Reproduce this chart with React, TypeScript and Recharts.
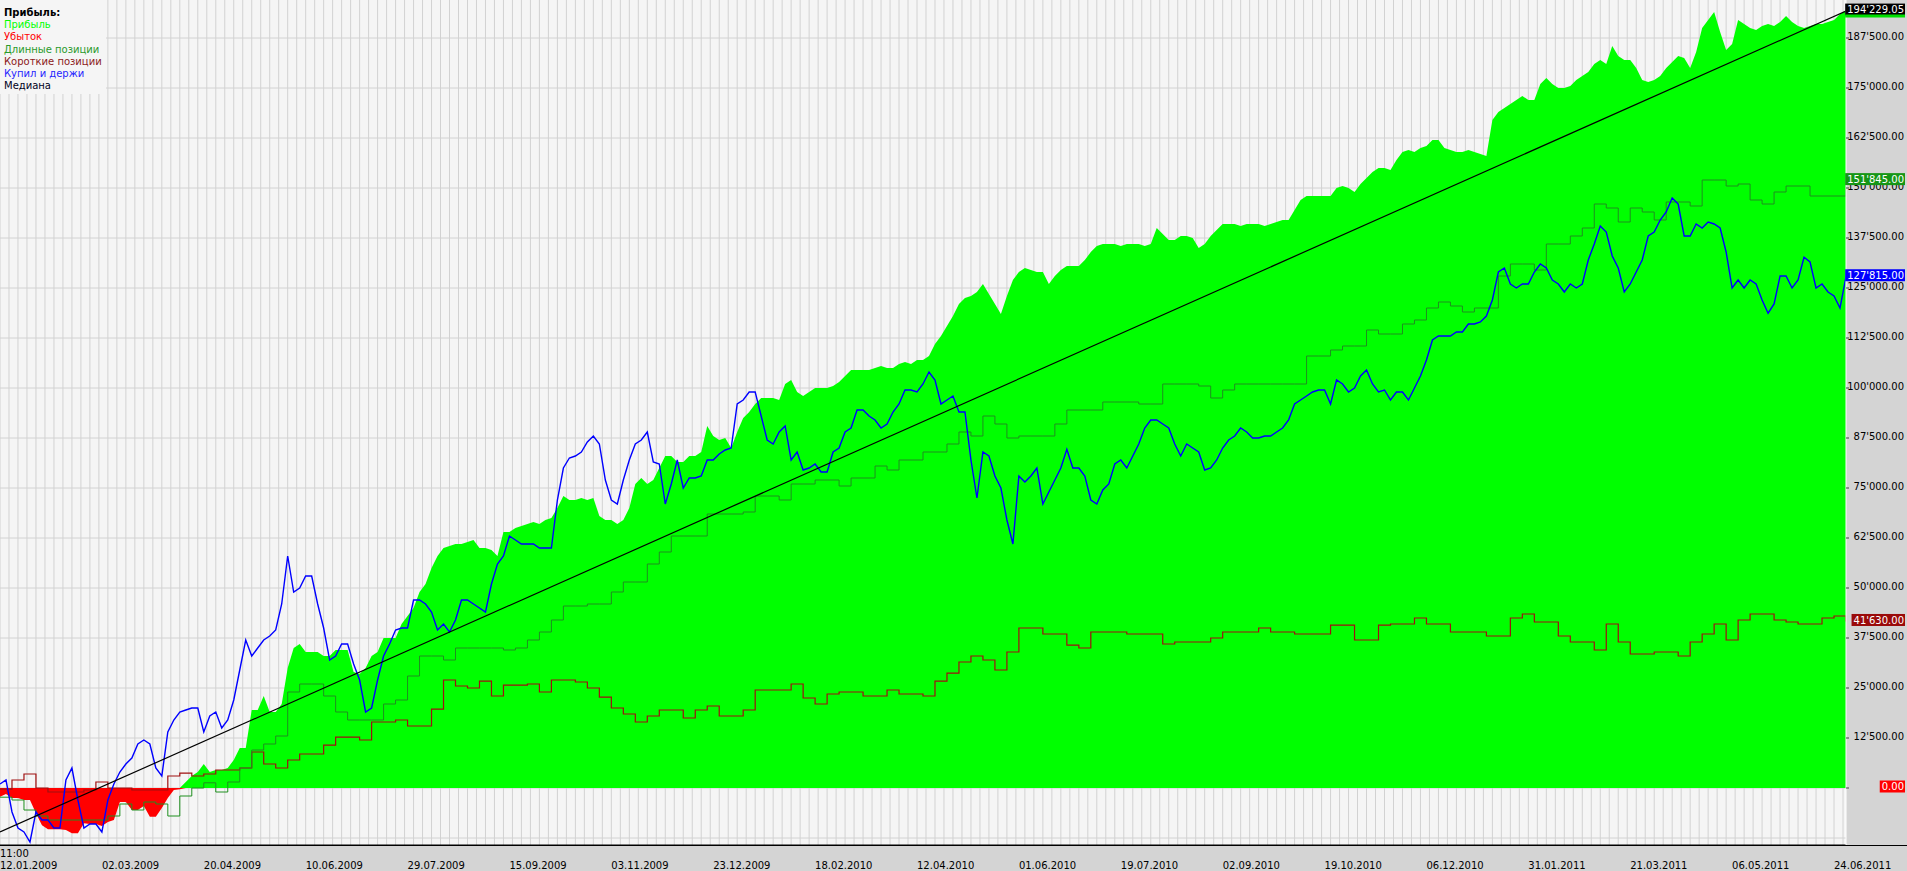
import React from 'react';
import { ComposedChart, Area, Line, XAxis, YAxis, CartesianGrid, Legend, LabelList } from 'recharts';

const W = 1907;
const H = 871;
const FONT = '"DejaVu Sans", Verdana, sans-serif';

// x axis: trading bars, one label every 34 bars
const dateLabels = [
  '12.01.2009', '02.03.2009', '20.04.2009', '10.06.2009', '29.07.2009', '15.09.2009',
  '03.11.2009', '23.12.2009', '18.02.2010', '12.04.2010', '01.06.2010', '19.07.2010',
  '02.09.2010', '19.10.2010', '06.12.2010', '31.01.2011', '21.03.2011', '06.05.2011', '24.06.2011',
];
const firstTime = '11:00';
const BARS_PER_LABEL = 34;
const SAMPLE_STEP = 2; // profit & buy-and-hold read every 2 bars
const LAST_BAR = 616;
const GRID_STEP = 3;

const yTickValues = [0, 12500, 25000, 37500, 50000, 62500, 75000, 87500, 100000, 112500, 125000, 137500, 150000, 162500, 175000, 187500];
const Y_MIN = -14250;
const Y_MAX = 197000;

// total result (profit > 0 green, loss < 0 red), every 2 bars
const profitValues = [
  -2200, -1500, -2500, -2500, -3000, -3000, -6300, -9300, -10300, -10300,
  -10300, -10500, -11300, -11300, -8800, -9000, -9000, -9500, -8500, -8000,
  -3500, -3500, -5500, -5500, -4500, -7200, -7200, -5000, -2500, -500,
  -300, 1500, 3000, 4000, 6000, 4000, 4500, 4500, 5000, 7000,
  10000, 10000, 19500, 19500, 23000, 19000, 19000, 21000, 30000, 35000,
  36000, 34000, 34000, 34000, 33000, 33000, 34500, 34500, 34500, 29000,
  28500, 30000, 33000, 34000, 37500, 37500, 37500, 41000, 43000, 45000,
  49000, 51000, 55000, 58000, 60000, 60500, 61000, 61000, 61500, 62000,
  60000, 60000, 59500, 58000, 64000, 64000, 65000, 65500, 66000, 66500,
  66000, 67000, 67500, 70000, 73000, 72000, 72000, 72500, 72000, 72500,
  68000, 67000, 67000, 66000, 67000, 70000, 76000, 77500, 76000, 77000,
  80000, 83000, 83000, 81500, 81500, 83000, 83000, 84000, 90500, 88000,
  87000, 87500, 85000, 89000, 92500, 94000, 96000, 97500, 97500, 97500,
  97000, 101000, 102000, 99000, 98000, 99000, 100000, 100000, 100000, 100500,
  101500, 103000, 104500, 104500, 104500, 104500, 105000, 105500, 105000, 105000,
  106000, 106500, 106000, 107000, 107000, 108000, 111000, 113000, 115500, 118000,
  121000, 122500, 123000, 124000, 126000, 123500, 121000, 118500, 123000, 127000,
  129000, 130000, 129500, 129000, 129000, 126000, 128000, 129500, 130500, 130500,
  130500, 132000, 134000, 135500, 136000, 136000, 136000, 135500, 136000, 136000,
  136000, 135500, 136000, 140000, 138500, 137000, 137000, 138000, 138000, 137500,
  135000, 136000, 138000, 139500, 141000, 141000, 141000, 140500, 141000, 141000,
  141000, 140500, 141000, 141500, 142000, 142000, 144500, 147000, 148000, 148000,
  148000, 148000, 148000, 150000, 150500, 150000, 149000, 151000, 152500, 154000,
  155000, 155000, 154500, 157000, 159000, 159500, 159000, 160000, 160500, 162000,
  162000, 160000, 159500, 159000, 159000, 159500, 159000, 158500, 158000, 167000,
  169000, 170000, 171000, 172000, 173000, 172000, 172000, 176000, 177500, 176000,
  175000, 175000, 175500, 177000, 178000, 179000, 181000, 182000, 181000, 185500,
  183000, 182000, 182000, 180000, 177000, 176500, 177000, 178000, 180000, 181500,
  183000, 182500, 180000, 184000, 190000, 192000, 194000, 189000, 184500, 186000,
  192000, 191000, 190000, 189500, 190500, 191000, 190500, 191500, 193000, 191500,
  190500, 190000, 190500, 191000, 191000, 191500, 192000, 193500, 194500,
];

const holdValues = [
  1000, 2000, -6000, -10000, -11000, -13500, -6000, -8000, -8000, -10000,
  -10000, 2000, 5000, -3000, -10000, -9000, -9000, -11000, -3000, 1000,
  4000, 6000, 7500, 11000, 12000, 11000, 5000, 3000, 14000, 17000,
  19000, 19500, 20000, 20000, 14000, 18000, 19000, 15000, 17000, 22000,
  29500, 37000, 33000, 35000, 37000, 38000, 39500, 46000, 58000, 49000,
  50000, 53000, 53000, 46000, 40000, 32000, 33000, 36000, 36000, 31000,
  27000, 19000, 20000, 27000, 33000, 36000, 39500, 40000, 40000, 47000,
  47000, 46000, 44000, 39500, 41000, 39000, 42000, 47000, 47000, 46000,
  45000, 44000, 51000, 56000, 58000, 63000, 62000, 61000, 61000, 61000,
  60000, 60000, 60000, 72000, 80000, 82500, 83000, 84000, 86500, 88000,
  86000, 77000, 72000, 71000, 77000, 82000, 86000, 87000, 89000, 81500,
  81000, 71000, 76000, 82000, 75000, 77500, 77500, 78000, 82000, 82000,
  83500, 84500, 85000, 96000, 97000, 99000, 99000, 93000, 87000, 86000,
  89000, 90500, 82000, 84000, 79500, 80000, 81000, 79000, 79000, 84000,
  85000, 89000, 90000, 94500, 94500, 93000, 92000, 90000, 91000, 94000,
  96000, 99500, 99500, 99000, 101000, 104000, 102000, 96000, 97000, 98000,
  94000, 94000, 82000, 72500, 84000, 83000, 78000, 75000, 67000, 61000,
  78000, 76500, 78000, 80000, 71000, 74000, 77000, 80000, 84700, 80000,
  80000, 78000, 72000, 71000, 74500, 76000, 81000, 82000, 80000, 83000,
  86000, 90000, 92000, 92000, 91000, 90000, 86000, 83000, 86000, 85000,
  84000, 79500, 80000, 82000, 85000, 87000, 88000, 90000, 89000, 87500,
  87500, 88000, 88000, 89000, 90000, 92000, 96000, 97000, 98000, 99000,
  99500, 99500, 96000, 102000, 101000, 99000, 100000, 103000, 104500, 101000,
  99000, 99500, 97000, 99000, 99000, 97000, 100000, 103000, 107000, 112000,
  113000, 113000, 113000, 114000, 114000, 116000, 116000, 116500, 118000, 122000,
  129000, 130000, 126000, 125000, 126000, 126000, 129000, 131000, 130000, 127000,
  126000, 124000, 126000, 125000, 126000, 132000, 136000, 140500, 139000, 133000,
  130000, 124000, 126000, 129000, 132000, 138000, 139000, 142000, 144000, 147500,
  146000, 138000, 138000, 141000, 140000, 141500, 141000, 140000, 134000, 125000,
  127000, 125000, 127000, 126000, 122000, 118700, 121000, 128000, 128000, 125000,
  127000, 132700, 131500, 125000, 126000, 124000, 123000, 120000, 127815,
];

// long & short positions, read every 4 bars (step lines)
const longValues = [
  -2300, -3000, -5500, -7000, -8000, -8000, -8000, -8000, -8000, -7000,
  -4000, -5500, -3500, -4000, -7000, -2000, 0, 1300, -1000, 1500,
  5000, 9500, 11000, 13000, 24000, 26000, 26000, 23000, 19000, 17000,
  17000, 17000, 21000, 22000, 28000, 33000, 33000, 32000, 35000, 35000,
  35000, 35000, 34500, 35000, 37000, 39000, 42000, 45500, 45500, 46000,
  46000, 49000, 51500, 51500, 56000, 59000, 63000, 63000, 63000, 68500,
  68500, 68500, 69000, 73000, 73000, 72000, 76000, 76000, 77000, 77000,
  75500, 77500, 77500, 80500, 79500, 82000, 82000, 84000, 84000, 86000,
  89000, 88000, 93000, 91000, 87500, 88000, 88000, 88000, 91000, 94500,
  94500, 94500, 96500, 96500, 96500, 96000, 96000, 101000, 101000, 101000,
  100500, 97500, 99500, 101000, 101000, 101000, 101000, 101000, 101000, 108000,
  108000, 109500, 110500, 110500, 114500, 113500, 113500, 116000, 117000, 120000,
  121500, 120500, 119000, 120000, 120000, 128000, 131000, 131000, 129500, 136000,
  136000, 138000, 140000, 146000, 145000, 141500, 145000, 144000, 142000, 146500,
  146500, 145500, 152000, 152000, 150500, 151000, 147000, 146000, 149000, 150500,
  150500, 148000, 148000, 148000, 151845,
];

const shortValues = [
  -300, 2000, 3500, 0, -1000, -1000, -1000, -500, 1500, 0,
  0, -500, -500, -500, 3000, 3700, 3000, 3500, 4500, 4500,
  5000, 9000, 6000, 5000, 7000, 8500, 8500, 10700, 12700, 12700,
  12000, 16500, 16500, 17000, 15500, 15500, 19700, 27000, 25500, 25000,
  26700, 23000, 25700, 25700, 26000, 24000, 27000, 27000, 26500, 25000,
  22700, 20000, 18500, 16500, 18000, 19500, 19500, 17500, 19500, 20500,
  18000, 18000, 19500, 24500, 24500, 24500, 26000, 22500, 21000, 23500,
  24000, 24000, 23000, 23000, 24500, 23500, 23500, 23000, 26700, 28700,
  31500, 33000, 32000, 29500, 34000, 40000, 40000, 38500, 38500, 35700,
  35000, 39000, 39000, 39000, 38500, 38500, 38500, 36000, 36500, 36500,
  36500, 37500, 39000, 39000, 39000, 40000, 39000, 39000, 38500, 38500,
  38500, 40700, 40700, 37000, 37000, 40700, 41000, 41000, 42500, 41000,
  41000, 39000, 39000, 39000, 38000, 38000, 42500, 43500, 41500, 41500,
  38000, 36500, 36500, 34500, 41000, 36500, 33500, 33500, 34000, 34000,
  33000, 36500, 38500, 41000, 37000, 42000, 43500, 43500, 42000, 41500,
  41000, 41000, 42500, 43000, 41630,
];
const POSITION_STEP = 4;

const medianValues = [-11000, 194229.05];

const legendTitle = 'Прибыль:';
const legendNames = ['Прибыль', 'Убыток', 'Длинные позиции', 'Короткие позиции', 'Купил и держи', 'Медиана'];
const legendColors = ['#00ff00', '#ff0000', '#2a9a2a', '#8b1a1a', '#2525ff', '#000022'];

const N = profitValues.length;
const tickBars = dateLabels.map((_, i) => i * BARS_PER_LABEL);
const gridX: number[] = [];
for (let b = 0; b <= LAST_BAR; b += GRID_STEP) gridX.push(b);
const gridY = [-12500, ...yTickValues];
const posEvery = POSITION_STEP / SAMPLE_STEP;

const chartData = profitValues.map((v, i) => {
  const onPos = i % posEvery === 0;
  return {
    bar: i * SAMPLE_STEP,
    profit: v > 0 ? v : 0,
    loss: v < 0 ? v : 0,
    hold: holdValues[i],
    long: onPos ? longValues[i / posEvery] : null,
    short: onPos ? shortValues[i / posEvery] : null,
    median: i === 0 ? medianValues[0] : i === N - 1 ? medianValues[1] : null,
  };
});

const fmt = (v: number) => {
  const [intPart, dec] = Math.abs(v).toFixed(2).split('.');
  const sep = intPart.replace(/\B(?=(\d{3})+(?!\d))/g, "'");
  return (v < 0 ? '-' : '') + sep + '.' + dec;
};

const textWidth = (s: string) => {
  let w = 0;
  for (const c of s) {
    if (c === "'") w += 2.75;
    else if (c === '.') w += 3.18;
    else if (c === '-') w += 3.6;
    else w += 6.36;
  }
  return w;
};

const YTick = (props: any) => {
  const { y, payload } = props;
  return (
    <text x={1904} y={y + 1.7} textAnchor="end" fontFamily={FONT} fontSize={10} fill="#000">
      {fmt(payload.value)}
    </text>
  );
};

const XTick = (props: any) => {
  const { x, payload } = props;
  const idx = Math.round(payload.value / BARS_PER_LABEL);
  return (
    <g>
      {idx === 0 && (
        <text x={x} y={856.5} textAnchor="start" fontFamily={FONT} fontSize={10} fill="#000">
          {firstTime}
        </text>
      )}
      <text x={x} y={868.5} textAnchor="start" fontFamily={FONT} fontSize={10} fill="#000">
        {dateLabels[idx]}
      </text>
    </g>
  );
};

const pointY = (props: any) => {
  const vb = props.viewBox || {};
  return typeof props.y === 'number' ? props.y : vb.y;
};

const makeLastLabel = (bg: string) => (props: any) => {
  const { value, index } = props;
  if (index !== N - 1 || value == null) return null;
  const y = pointY(props);
  if (typeof y !== 'number') return null;
  const text = fmt(Number(value));
  const w = textWidth(text);
  const cy = y - 1.5;
  return (
    <g>
      <rect x={1904 - w - 2} y={cy - 6} width={w + 3} height={12} fill={bg} />
      <text x={1904} y={cy + 3.6} textAnchor="end" fontFamily={FONT} fontSize={10} fill="#fff">
        {text}
      </text>
    </g>
  );
};

// the profit label sits under the median label: only its lower edge shows
const profitLastLabel = (props: any) => {
  const { value, index } = props;
  if (index !== N - 1 || value == null) return null;
  const y = pointY(props);
  if (typeof y !== 'number') return null;
  const w = textWidth(fmt(Number(value)));
  const cy = y - 1.5;
  return <rect x={1904 - w - 2} y={cy + 6} width={w + 3} height={3} fill="#00e000" />;
};

const LegendBox = () => (
  <div
    style={{
      background: '#f5f5f5',
      padding: '7px 4px 2px 4px',
      fontFamily: FONT,
      fontSize: 10,
      lineHeight: '12.2px',
      whiteSpace: 'nowrap',
    }}
  >
    <div style={{ fontWeight: 'bold', color: '#000' }}>{legendTitle}</div>
    {legendNames.map((n, i) => (
      <div key={n} style={{ color: legendColors[i] }}>
        {n}
      </div>
    ))}
  </div>
);

export default function App() {
  return (
    <div style={{ position: 'absolute', left: 0, top: 0, width: W, height: H, background: '#d4d4d4', overflow: 'hidden' }}>
      <ComposedChart width={W} height={H} data={chartData} margin={{ top: 0, right: 0, bottom: 0, left: 0 }}>
        <CartesianGrid fill="#f5f5f5" stroke="#d2d2d2" horizontalValues={gridY} verticalValues={gridX} />
        <XAxis
          dataKey="bar"
          type="number"
          domain={[0, LAST_BAR]}
          ticks={tickBars}
          interval={0}
          tick={<XTick />}
          tickLine={false}
          axisLine={{ stroke: '#000' }}
          height={26}
          allowDataOverflow
        />
        <YAxis
          orientation="right"
          type="number"
          domain={[Y_MIN, Y_MAX]}
          ticks={yTickValues}
          interval={0}
          width={61}
          tick={<YTick />}
          tickSize={3}
          tickLine={{ stroke: '#444' }}
          axisLine={{ stroke: '#ffffff' }}
          allowDataOverflow
        />
        <Legend
          layout="vertical"
          align="center"
          verticalAlign="middle"
          wrapperStyle={{ left: 0, top: 0, width: 'auto', height: 'auto' }}
          content={<LegendBox />}
        />
        <Area
          name="Прибыль"
          type="linear"
          dataKey="profit"
          stroke="none"
          fill="#00ff00"
          fillOpacity={1}
          baseValue={0}
          isAnimationActive={false}
          dot={false}
          activeDot={false}
        >
          <LabelList dataKey="profit" content={profitLastLabel} />
        </Area>
        <Area
          name="Убыток"
          type="linear"
          dataKey="loss"
          stroke="none"
          fill="#ff0000"
          fillOpacity={1}
          baseValue={0}
          isAnimationActive={false}
          dot={false}
          activeDot={false}
        >
          <LabelList dataKey="loss" content={makeLastLabel('#ff0000')} />
        </Area>
        <Line
          name="Короткие позиции"
          type="stepAfter"
          dataKey="short"
          stroke="#a01010"
          strokeWidth={1.2}
          connectNulls
          dot={false}
          activeDot={false}
          isAnimationActive={false}
        >
          <LabelList dataKey="short" content={makeLastLabel('#9a0a0a')} />
        </Line>
        <Line
          name="Длинные позиции"
          type="stepAfter"
          dataKey="long"
          stroke="#1f8f1f"
          strokeWidth={1}
          connectNulls
          dot={false}
          activeDot={false}
          isAnimationActive={false}
        >
          <LabelList dataKey="long" content={makeLastLabel('#169616')} />
        </Line>
        <Line
          name="Купил и держи"
          type="linear"
          dataKey="hold"
          stroke="#0000ff"
          strokeWidth={1.4}
          dot={false}
          activeDot={false}
          isAnimationActive={false}
        >
          <LabelList dataKey="hold" content={makeLastLabel('#0000ff')} />
        </Line>
        <Line
          name="Медиана"
          type="linear"
          dataKey="median"
          stroke="#000000"
          strokeWidth={1.2}
          connectNulls
          dot={false}
          activeDot={false}
          isAnimationActive={false}
        >
          <LabelList dataKey="median" content={makeLastLabel('#000000')} />
        </Line>
      </ComposedChart>
      <div style={{ position: 'absolute', left: 0, top: 845, width: W, height: 1, background: '#000', pointerEvents: 'none' }} />
    </div>
  );
}
